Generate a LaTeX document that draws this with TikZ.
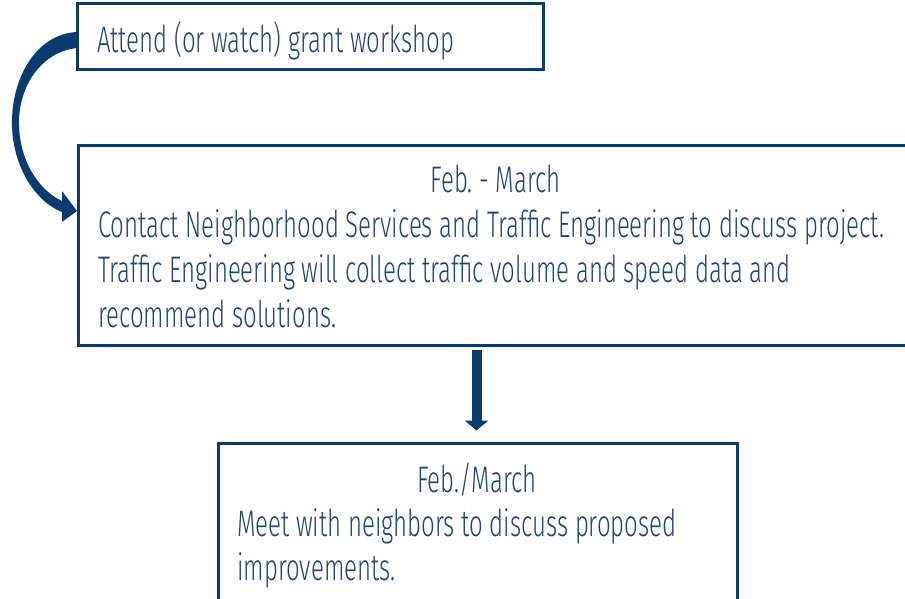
\documentclass[tikz,border=0pt]{standalone}
\usepackage{fontspec}
\setmainfont{Fira Sans Light}[FakeStretch=0.648]
\usetikzlibrary{arrows.meta,calc}
\definecolor{navy}{RGB}{8,60,112}
\definecolor{txtblue}{RGB}{30,68,114}
\frenchspacing
\tikzset{
  box/.style={draw=navy, line width=3pt, fill=white, minimum width=#1, inner sep=0pt},
  txt/.style={text=txtblue, inner sep=0pt, font=\fontsize{37}{45}\selectfont},
}
\begin{document}
\begin{tikzpicture}[x=1pt,y=-1pt]
\useasboundingbox (0,0) rectangle (905,598);
\fill[white] (0,0) rectangle (905,598);
% boxes
\node[box=466pt, minimum height=65.5pt] (top) at (310,36.25) {};
\node[box=840pt, minimum height=200pt] (mid) at (498,245) {};
\node[box=519pt, minimum height=180pt] (bot) at (477.5,533) {};
% texts
\node[txt, anchor=base west] (t1) at (97,52) {Attend (or watch) grant workshop};
\node[txt, anchor=base] (t2) at (495.5,192) {Feb. - March};
\node[txt, anchor=base west] (t3) at (98,237) {Contact Neighborhood Services and Traffic Engineering to discuss project.};
\node[txt, anchor=base west] (t4) at (98,282) {Traffic Engineering will collect traffic volume and speed data and};
\node[txt, anchor=base west] (t5) at (98,327) {recommend solutions.};
\node[txt, anchor=base] (t6) at (477,492) {Feb./March};
\node[txt, anchor=base west] (t7) at (237,536) {Meet with neighbors to discuss proposed};
\node[txt, anchor=base west] (t8) at (237,580) {improvements.};
% curved arrow
\fill[navy] (77,32) .. controls (35,34) and (11,80) .. (12,125)
  .. controls (13,170) and (38,203) .. (62,212) -- (62,222) -- (77,211) -- (62,191) -- (62,201)
  .. controls (42,192) and (20,165) .. (19,125)
  .. controls (18,88) and (40,52) .. (77,48) -- cycle;
% straight arrow
\draw[navy, line width=10pt, -{Triangle[width=23pt,length=10pt]}]
  ($(bot.north |- mid.south)+(-1,3)$) -- ($(bot.north)+(-1,-11)$);
\end{tikzpicture}
\end{document}
